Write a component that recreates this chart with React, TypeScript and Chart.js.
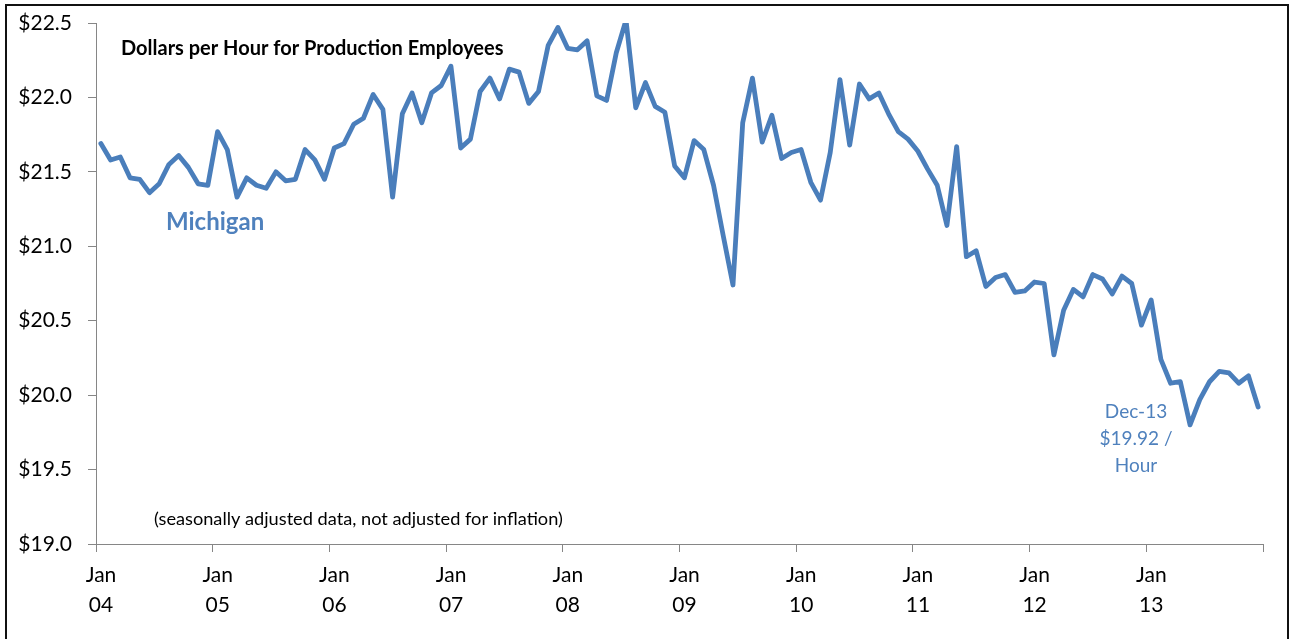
import React, { useEffect, useRef } from "react";
import { Chart, registerables } from "chart.js";

Chart.register(...registerables);

// ---- data ----
const yearLabels: string[] = ["04", "05", "06", "07", "08", "09", "10", "11", "12", "13"];
const monthsPerYear = 12;

const wages2004: number[] = [21.69, 21.58, 21.60, 21.46, 21.45, 21.36, 21.42, 21.55, 21.61, 21.53, 21.42, 21.41];
const wages2005: number[] = [21.77, 21.65, 21.33, 21.46, 21.41, 21.39, 21.50, 21.44, 21.45, 21.65, 21.58, 21.45];
const wages2006: number[] = [21.66, 21.69, 21.82, 21.86, 22.02, 21.92, 21.33, 21.89, 22.03, 21.83, 22.03, 22.08];
const wages2007: number[] = [22.21, 21.66, 21.72, 22.04, 22.13, 21.99, 22.19, 22.17, 21.96, 22.04, 22.35, 22.47];
const wages2008: number[] = [22.33, 22.32, 22.38, 22.01, 21.98, 22.30, 22.52, 21.93, 22.10, 21.94, 21.90, 21.54];
const wages2009: number[] = [21.46, 21.71, 21.65, 21.41, 21.07, 20.74, 21.83, 22.13, 21.70, 21.88, 21.59, 21.63];
const wages2010: number[] = [21.65, 21.43, 21.31, 21.63, 22.12, 21.68, 22.09, 21.99, 22.03, 21.89, 21.77, 21.72];
const wages2011: number[] = [21.64, 21.52, 21.41, 21.14, 21.67, 20.93, 20.97, 20.73, 20.79, 20.81, 20.69, 20.70];
const wages2012: number[] = [20.76, 20.75, 20.27, 20.57, 20.71, 20.66, 20.81, 20.78, 20.68, 20.80, 20.75, 20.47];
const wages2013: number[] = [20.64, 20.24, 20.08, 20.09, 19.80, 19.97, 20.09, 20.16, 20.15, 20.08, 20.13, 19.92];

const yMin = 19.0;
const yMax = 22.5;
const yStep = 0.5;

const subtitleText = "Dollars per Hour for Production Employees";
const seriesLabel = "Michigan";
const noteText = "(seasonally adjusted data, not adjusted for inflation)";
const endNoteLines: string[] = ["Dec-13", "$19.92 /", "Hour"];

const allWages: number[] = [
  ...wages2004, ...wages2005, ...wages2006, ...wages2007, ...wages2008,
  ...wages2009, ...wages2010, ...wages2011, ...wages2012, ...wages2013,
];

const W = 1296;
const H = 639;
const FONT = "Lato, 'Open Sans', sans-serif";
const LINE_BLUE = "#4A7EBB";
const TEXT_BLUE = "#4F81BD";
const AXIS_GRAY = "#868686";

const overlayPlugin = {
  id: "overlay",
  beforeDraw(chart: any) {
    const ctx = chart.ctx;
    ctx.save();
    ctx.fillStyle = "#ffffff";
    ctx.fillRect(0, 0, chart.width, chart.height);
    ctx.restore();
  },
  afterDraw(chart: any) {
    const ctx = chart.ctx;
    ctx.save();
    // outer frame
    ctx.strokeStyle = "#111";
    ctx.lineWidth = 2;
    ctx.beginPath();
    ctx.moveTo(6, H);
    ctx.lineTo(6, 5);
    ctx.lineTo(1288, 5);
    ctx.lineTo(1288, H);
    ctx.stroke();

    ctx.textBaseline = "alphabetic";
    ctx.textAlign = "left";
    ctx.fillStyle = "#000";
    ctx.font = `bold 20px ${FONT}`;
    ctx.fillText(subtitleText, 121, 55);

    ctx.fillStyle = TEXT_BLUE;
    ctx.font = `bold 24px ${FONT}`;
    ctx.fillText(seriesLabel, 166, 230);

    ctx.fillStyle = "#000";
    ctx.font = `18.2px ${FONT}`;
    ctx.fillText(noteText, 154, 525);

    ctx.fillStyle = TEXT_BLUE;
    ctx.font = `19px ${FONT}`;
    ctx.textAlign = "center";
    const baselines = [418, 445, 472];
    endNoteLines.forEach((t, i) => ctx.fillText(t, 1136, baselines[i]));
    ctx.restore();
  },
};

export default function App() {
  const canvasRef = useRef<HTMLCanvasElement | null>(null);

  useEffect(() => {
    const canvas = canvasRef.current;
    if (!canvas) return;
    const points = allWages.map((v, i) => ({ x: i + 0.5, y: v }));
    const xTickValues = Array.from({ length: yearLabels.length + 1 }, (_, i) => i * monthsPerYear);

    const chart = new Chart(canvas, {
      type: "line",
      data: {
        datasets: [
          {
            label: seriesLabel,
            data: points,
            borderColor: LINE_BLUE,
            backgroundColor: LINE_BLUE,
            borderWidth: 4.8,
            pointRadius: 0,
            tension: 0,
            borderJoinStyle: "round",
            borderCapStyle: "round",
            fill: false,
          },
        ],
      },
      options: {
        animation: false,
        responsive: false,
        devicePixelRatio: 1,
        layout: { padding: { left: 0, top: 23, right: 33, bottom: 0 } },
        plugins: {
          legend: { display: false },
          tooltip: { enabled: false },
          title: { display: false },
        },
        scales: {
          x: {
            type: "linear",
            min: 0,
            max: yearLabels.length * monthsPerYear,
            afterBuildTicks: (scale: any) => {
              scale.ticks = xTickValues.map((v) => ({ value: v }));
            },
            afterFit: (scale: any) => {
              scale.height = H - 544;
              scale.paddingLeft = 0;
              scale.paddingRight = 0;
            },
            grid: {
              drawOnChartArea: false,
              drawTicks: true,
              tickLength: 8,
              color: AXIS_GRAY,
            },
            border: { display: true, color: AXIS_GRAY, width: 1 },
            ticks: {
              autoSkip: false,
              maxRotation: 0,
              minRotation: 0,
              padding: 9,
              labelOffset: 5,
              color: "#000",
              font: { family: FONT, size: 21, lineHeight: 1.4 },
              callback: (value: any) => {
                const idx = Math.round(Number(value) / monthsPerYear);
                return idx < yearLabels.length ? ["Jan", yearLabels[idx]] : "";
              },
            },
          },
          y: {
            type: "linear",
            min: yMin,
            max: yMax,
            afterFit: (scale: any) => {
              scale.width = 96;
              scale.paddingTop = 0;
              scale.paddingBottom = 0;
            },
            grid: {
              drawOnChartArea: false,
              drawTicks: true,
              tickLength: 8,
              color: AXIS_GRAY,
            },
            border: { display: true, color: AXIS_GRAY, width: 1 },
            ticks: {
              stepSize: yStep,
              padding: 16,
              color: "#000",
              font: { family: FONT, size: 21 },
              callback: (value: any) => "$" + Number(value).toFixed(1),
            },
          },
        },
      },
      plugins: [overlayPlugin],
    });
    return () => chart.destroy();
  }, []);

  return (
    <div style={{ position: "absolute", left: 0, top: 0, width: W, height: H, background: "#fff" }}>
      <canvas ref={canvasRef} width={W} height={H} style={{ display: "block", width: W, height: H }} />
    </div>
  );
}
